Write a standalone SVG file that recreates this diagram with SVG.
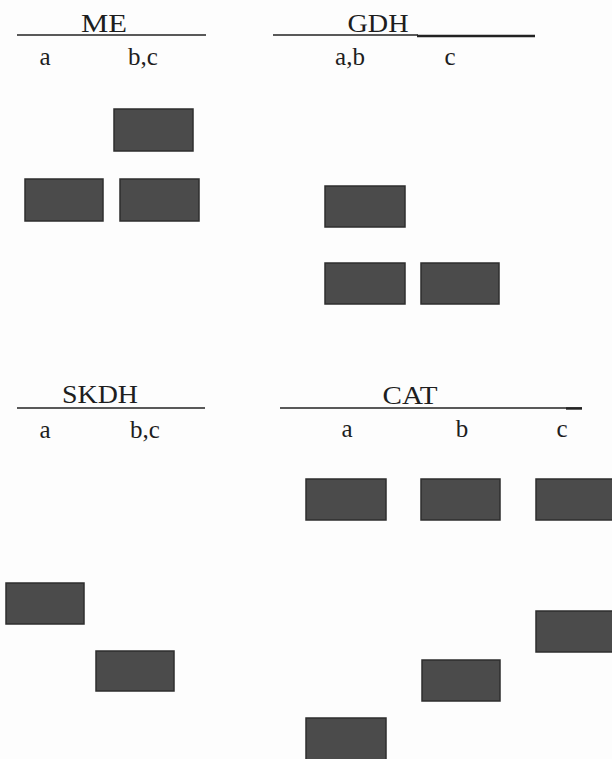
<svg xmlns="http://www.w3.org/2000/svg" width="612" height="759" viewBox="0 0 612 759">
  <style>
    .title { font-family: "Liberation Serif", "Times New Roman", serif; font-size: 26px; fill: #1e1e1e; text-anchor: middle; }
    .lane { font-family: "Liberation Serif", "Times New Roman", serif; font-size: 25px; fill: #1e1e1e; text-anchor: middle; }
    .rule { stroke: #222; stroke-width: 1.3; fill: none; }
    .rule-bold { stroke: #222; stroke-width: 2.4; fill: none; }
    .band { fill: #4b4b4b; stroke: #2e2e2e; stroke-width: 1.5; }
  </style>
  <rect width="612" height="759" fill="#fdfdfd"/>

  <!-- ME zymogram -->
  <g id="panel-me">
    <g id="me-header">
      <line class="rule" x1="17" y1="35" x2="206" y2="35"/>
      <text class="title" x="104" y="32" textLength="46" lengthAdjust="spacingAndGlyphs">ME</text>
      <text class="lane" x="45" y="65">a</text>
      <text class="lane" x="143" y="65">b,c</text>
    </g>
    <rect id="me-bc-1" class="band" x="114" y="109" width="79" height="42"/>
    <rect id="me-a-1" class="band" x="25" y="179" width="78" height="42"/>
    <rect id="me-bc-2" class="band" x="120" y="179" width="79" height="42"/>
  </g>

  <!-- GDH zymogram -->
  <g id="panel-gdh">
    <g id="gdh-header">
      <line class="rule" x1="273" y1="35" x2="418" y2="35"/>
      <line class="rule-bold" x1="417" y1="36" x2="535" y2="36"/>
      <text class="title" x="378" y="32" textLength="61" lengthAdjust="spacingAndGlyphs">GDH</text>
      <text class="lane" x="350" y="65">a,b</text>
      <text class="lane" x="450" y="65">c</text>
    </g>
    <rect id="gdh-ab-1" class="band" x="325" y="186" width="80" height="41"/>
    <rect id="gdh-ab-2" class="band" x="325" y="263" width="80" height="41"/>
    <rect id="gdh-c-1" class="band" x="421" y="263" width="78" height="41"/>
  </g>

  <!-- SKDH zymogram -->
  <g id="panel-skdh">
    <g id="skdh-header">
      <line class="rule" x1="17" y1="408" x2="205" y2="408"/>
      <text class="title" x="100" y="403" textLength="76" lengthAdjust="spacingAndGlyphs">SKDH</text>
      <text class="lane" x="45" y="438">a</text>
      <text class="lane" x="145" y="438">b,c</text>
    </g>
    <rect id="skdh-a-1" class="band" x="6" y="583" width="78" height="41"/>
    <rect id="skdh-bc-1" class="band" x="96" y="651" width="78" height="40"/>
  </g>

  <!-- CAT zymogram -->
  <g id="panel-cat">
    <g id="cat-header">
      <line class="rule" x1="280" y1="408" x2="582" y2="408"/>
      <line class="rule-bold" x1="566" y1="408.5" x2="582" y2="408.5"/>
      <text class="title" x="410" y="404" textLength="55" lengthAdjust="spacingAndGlyphs">CAT</text>
      <text class="lane" x="347" y="437">a</text>
      <text class="lane" x="462" y="437">b</text>
      <text class="lane" x="562" y="437">c</text>
    </g>
    <rect id="cat-a-1" class="band" x="306" y="479" width="80" height="41"/>
    <rect id="cat-b-1" class="band" x="421" y="479" width="79" height="41"/>
    <rect id="cat-c-1" class="band" x="536" y="479" width="80" height="41"/>
    <rect id="cat-c-2" class="band" x="536" y="611" width="80" height="41"/>
    <rect id="cat-b-2" class="band" x="422" y="660" width="78" height="41"/>
    <rect id="cat-a-2" class="band" x="306" y="718" width="80" height="45"/>
  </g>
</svg>
